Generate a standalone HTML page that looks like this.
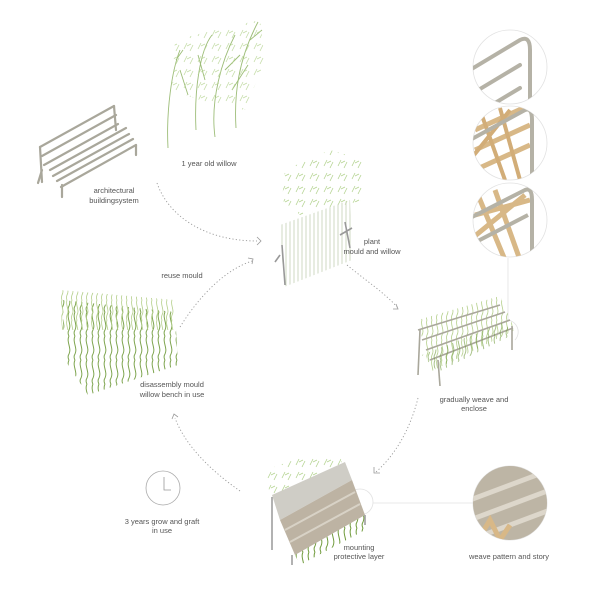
<!DOCTYPE html>
<html><head><meta charset="utf-8"><style>
html,body{margin:0;padding:0;background:#fff}
svg{display:block}
text{font-family:"Liberation Sans",sans-serif;font-size:7.5px;fill:#555;text-anchor:middle}
</style></head><body>
<svg width="600" height="600" viewBox="0 0 600 600" xmlns="http://www.w3.org/2000/svg">
<defs>
<pattern id="wave" width="6" height="24" patternUnits="userSpaceOnUse">
<path d="M3 0 C0 6 6 12 3 18 C1 21 3 24 3 24" stroke="#6f9a3a" stroke-width="1" fill="none"/>
</pattern>
<pattern id="wave2" width="5" height="20" patternUnits="userSpaceOnUse">
<path d="M2 0 C0 5 5 10 2 15 C1 18 2 20 2 20" stroke="#b4cf8a" stroke-width="0.8" fill="none"/>
</pattern>
<pattern id="stems" width="4" height="40" patternUnits="userSpaceOnUse">
<line x1="2" y1="0" x2="2" y2="40" stroke="#c3d0b4" stroke-width="0.8"/>
</pattern>
<pattern id="leaf" width="14" height="13" patternUnits="userSpaceOnUse">
<path d="M2 10 L5 4 M8 12 L11 6 M5 7 L9 5" stroke="#b5d391" stroke-width="0.8"/>
</pattern>
<clipPath id="c1"><circle cx="510" cy="67" r="37"/></clipPath>
<clipPath id="c2"><circle cx="510" cy="143" r="37"/></clipPath>
<clipPath id="c3"><circle cx="510" cy="220" r="37"/></clipPath>
<clipPath id="c4"><circle cx="510" cy="503" r="37"/></clipPath>
</defs>

<!-- left bench -->
<g stroke="#a9a79b" stroke-width="2.2" fill="none" stroke-linecap="round">
<line x1="40" y1="147" x2="114" y2="106"/>
<line x1="42" y1="156" x2="116" y2="115"/>
<line x1="44" y1="165" x2="118" y2="124"/>
<line x1="50" y1="170" x2="126" y2="128"/>
<line x1="53" y1="176" x2="129" y2="134"/>
<line x1="57" y1="181" x2="133" y2="139"/>
<line x1="61" y1="187" x2="136" y2="145"/>
<line x1="40" y1="147" x2="42" y2="182"/>
<line x1="114" y1="106" x2="116" y2="130"/>
<line x1="42" y1="170" x2="38" y2="183"/>
<line x1="62" y1="185" x2="62" y2="197"/>
<line x1="136" y1="145" x2="136" y2="155"/>
</g>

<!-- 1 year old willow -->
<g stroke="#9dbd78" stroke-width="0.9" fill="none">
<path d="M168 148 C166 110 172 70 180 50"/>
<path d="M196 130 C194 90 200 50 212 35"/>
<path d="M215 137 C210 100 222 60 235 35"/>
<path d="M236 128 C234 95 238 60 258 22"/>
<path d="M188 95 L180 70 M205 80 L198 55 M225 70 L240 55 M232 90 L248 65 M176 60 L183 50 M250 40 L262 30"/>
</g>
<path d="M175 40 L215 30 L260 20 L265 60 L245 110 L200 100 L172 90 Z" fill="url(#leaf)" opacity="0.8"/>

<!-- plant mould and willow -->
<path d="M285 170 L330 150 L365 160 L365 200 L300 215 L282 200 Z" fill="url(#leaf)"/>
<path d="M280 225 L350 200 L352 260 L284 287 Z" fill="url(#stems)"/>
<g stroke="#999" stroke-width="1.6" fill="none"><path d="M282 245 L285 285 M280 255 L275 262 M345 222 L350 248 M340 235 L352 228"/></g>

<!-- detail circles right -->
<g fill="none" stroke="#e2e2e2" stroke-width="0.8">
<circle cx="510" cy="67" r="37"/><circle cx="510" cy="143" r="37"/><circle cx="510" cy="220" r="37"/>
<circle cx="510" cy="503" r="37"/>
<line x1="508" y1="258" x2="508" y2="320"/>
<path d="M508 320 A12 12 0 0 1 515 340"/>
<circle cx="360" cy="502" r="13"/>
<line x1="373" y1="503" x2="473" y2="503"/>
</g>
<g clip-path="url(#c1)" stroke="#b5b2a6" stroke-width="4" fill="none" stroke-linecap="round">
<path d="M470 70 L520 40 Q530 35 530 50 L530 120"/><path d="M470 95 L520 65"/><path d="M470 118 L520 88"/>
</g>
<g clip-path="url(#c2)" fill="none">
<path d="M475 130 L530 105 M475 150 L530 125 M475 170 L530 145" stroke="#d8b887" stroke-width="5"/>
<path d="M480 110 L505 180 M500 108 L520 180 M470 160 L510 110" stroke="#d2ad78" stroke-width="4"/>
<path d="M470 140 L525 110 Q532 107 532 120 L532 190" stroke="#b5b2a6" stroke-width="4"/>
</g>
<g clip-path="url(#c3)" fill="none">
<path d="M478 195 L505 260 M495 190 L520 260 M470 240 L525 195 M475 215 L530 200" stroke="#d8b887" stroke-width="5"/>
<path d="M470 218 L525 190 Q532 187 532 200 L532 265 M470 245 L528 215" stroke="#b5b2a6" stroke-width="4"/>
</g>
<g clip-path="url(#c4)">
<rect x="470" y="460" width="80" height="90" fill="#bdb5a5"/>
<path d="M470 500 L550 470 M470 520 L550 490 M470 540 L550 510" stroke="#ddd7cb" stroke-width="5"/>
<path d="M478 540 L490 520 L500 540 L510 525" stroke="#d8b887" stroke-width="5" fill="none"/>
</g>

<!-- disassembly willow -->
<path d="M62 300 L175 312 L178 365 L88 395 L65 360 Z" fill="url(#wave)" opacity="0.9"/>
<path d="M60 290 L175 300 L175 330 L62 330 Z" fill="url(#wave2)"/>

<!-- enclose bench -->
<path d="M418 320 L500 296 L515 330 L430 372 Z" fill="url(#wave2)"/>
<g stroke="#a9a79b" stroke-width="1.6" fill="none">
<line x1="418" y1="330" x2="500" y2="305"/><line x1="422" y1="340" x2="505" y2="312"/>
<line x1="426" y1="350" x2="510" y2="320"/><line x1="430" y1="360" x2="513" y2="328"/>
<line x1="420" y1="330" x2="418" y2="375"/><line x1="438" y1="360" x2="440" y2="386"/>
<line x1="512" y1="326" x2="512" y2="350"/>
</g>
<path d="M422 355 L438 372 L512 335 L505 322 Z" fill="url(#wave)" opacity="0.6"/>

<!-- mounting bench -->
<path d="M265 470 L300 458 L340 455 L345 475 L270 495 Z" fill="url(#leaf)"/>
<path d="M272 495 L345 462 L352 480 L280 520 Z" fill="#cfcdc6"/>
<path d="M280 520 L352 480 L365 515 L295 555 Z" fill="#bdb3a3"/>
<path d="M285 530 L355 492 M290 542 L360 504" stroke="#d8d2c6" stroke-width="2"/>
<path d="M295 555 L365 515 L365 530 L300 565 Z" fill="url(#wave)"/>
<g stroke="#999" stroke-width="1.5"><line x1="272" y1="497" x2="272" y2="550"/><line x1="292" y1="555" x2="292" y2="565"/><line x1="365" y1="515" x2="365" y2="525"/></g>

<!-- clock -->
<circle cx="163" cy="488" r="17" fill="none" stroke="#aaa" stroke-width="0.8"/>
<path d="M164 477 L164 490 L171 490" stroke="#999" stroke-width="0.8" fill="none"/>

<!-- dotted arrows -->
<g stroke="#999" stroke-width="0.9" fill="none" stroke-dasharray="1.2 2.2">
<path d="M157 183 C170 220 210 241 257 241"/>
<path d="M180 327 C200 295 225 270 252 261"/>
<path d="M347 265 C365 280 385 293 398 308"/>
<path d="M418 398 C410 430 395 455 376 472"/>
<path d="M240 491 C210 470 185 445 175 418"/>
</g>
<g stroke="#999" stroke-width="0.8" fill="none">
<path d="M257 237 L261 241 L257 245"/>
<path d="M248 258 L253 259 L252 264"/>
<path d="M396 304 L398 309 L393 309"/>
<path d="M374 467 L374 473 L380 473"/>
<path d="M172 419 L174 414 L178 417"/>
</g>

<!-- labels -->
<text x="209" y="166">1 year old willow</text>
<text x="114" y="193">architectural</text>
<text x="114" y="203">buildingsystem</text>
<text x="372" y="244">plant</text>
<text x="372" y="254">mould and willow</text>
<text x="182" y="278">reuse mould</text>
<text x="172" y="387">disassembly mould</text>
<text x="172" y="397">willow bench in use</text>
<text x="474" y="402">gradually weave and</text>
<text x="474" y="411">enclose</text>
<text x="162" y="524">3 years grow and graft</text>
<text x="162" y="533">in use</text>
<text x="359" y="550">mounting</text>
<text x="359" y="559">protective layer</text>
<text x="509" y="559">weave pattern and story</text>
</svg>
</body></html>
